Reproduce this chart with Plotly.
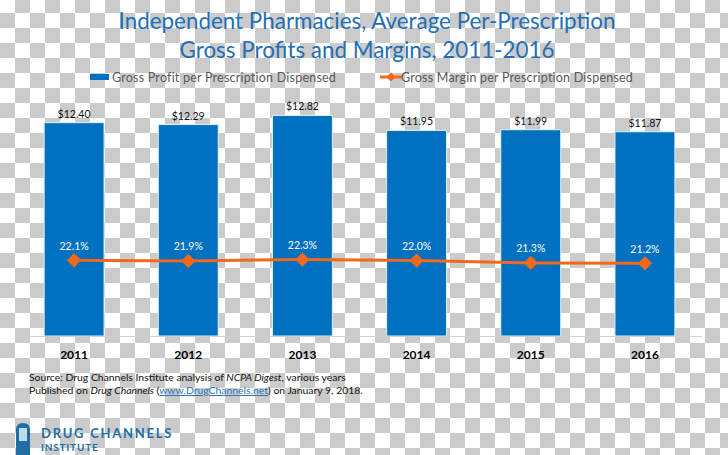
import plotly.graph_objects as go

W, H = 728, 455
years = ["2011", "2012", "2013", "2014", "2015", "2016"]
profit = [12.40, 12.29, 12.82, 11.95, 11.99, 11.87]
margin = [22.1, 21.9, 22.3, 22.0, 21.3, 21.2]
profit_name = "Gross Profit per Prescription Dispensed"
margin_name = "Gross Margin per Prescription Dispensed"
title_text = "Independent Pharmacies, Average Per-Prescription<br>Gross Profits and Margins, 2011-2016"
source_lines = ["Source: Drug Channels Institute analysis of <i>NCPA Digest</i>, various years",
                "Published on <i>Drug Channels</i> (<span style=\"color:#2E75B6\"><u>www.DrugChannels.net</u></span>) on January 9, 2018."]

BLUE = "#0070C0"
ORANGE = "#F2691C"
FONT = "Lato"


def px(x):
    return x / W


def py(y):
    return 1 - y / H


# transparency checkerboard backdrop, as one path in page fractions
cells = []
for r in range(0, 31):
    for c in range(0, 49):
        if (r + c) % 2 == 1:
            x0, x1 = c * 15, (c + 1) * 15
            y0, y1 = max(13 + (r - 1) * 15, 0), 13 + r * 15
            cells.append(f"M{px(x0):.5f},{py(y0):.5f}L{px(x1):.5f},{py(y0):.5f}L{px(x1):.5f},{py(y1):.5f}L{px(x0):.5f},{py(y1):.5f}Z")
shapes = [dict(type="path", xref="paper", yref="paper", layer="below", path="".join(cells),
               fillcolor="#CBCBCB", line=dict(width=0))]

# logo capsule
shapes += [
    dict(type="path", xref="paper", yref="paper", layer="above",
         path=f"M{px(16)},{py(455)}L{px(16)},{py(430)}Q{px(16)},{py(423)} {px(23)},{py(423)}Q{px(30)},{py(423)} {px(30)},{py(430)}L{px(30)},{py(455)}Z",
         fillcolor="#1F6EA5", line=dict(width=0)),
    dict(type="rect", xref="paper", yref="paper", layer="above",
         x0=px(19), x1=px(27), y0=py(428), y1=py(441), fillcolor="#BFDCEF", line=dict(width=0)),
]

# legend keys
shapes += [
    dict(type="rect", xref="paper", yref="paper", layer="above", x0=px(90), x1=px(109), y0=py(74), y1=py(80),
         fillcolor=BLUE, line=dict(width=0)),
    dict(type="line", xref="paper", yref="paper", layer="above", x0=px(380), x1=px(402), y0=py(77), y1=py(77),
         line=dict(color=ORANGE, width=3)),
    dict(type="path", xref="paper", yref="paper", layer="above",
         path=f"M{px(386)},{py(77)}L{px(391)},{py(72.5)}L{px(396)},{py(77)}L{px(391)},{py(81.5)}Z",
         fillcolor=ORANGE, line=dict(width=0)),
]

fig = go.Figure()
fig.add_bar(x=years, y=profit, name=profit_name, marker=dict(color=BLUE, line=dict(color="#E3F1FB", width=1)),
            text=[f"${v:.2f}" for v in profit], textposition="outside", cliponaxis=False,
            textfont=dict(family=FONT, size=10.5, color="#111111"), width=0.525, showlegend=False)
fig.add_scatter(x=years, y=margin, name=margin_name, yaxis="y2", mode="lines+markers+text",
                line=dict(color=ORANGE, width=3), marker=dict(symbol="diamond", size=11, color=ORANGE),
                text=[f"{v:.1f}%" for v in margin], textposition="top center",
                textfont=dict(family=FONT, size=10.5, color="#FFFFFF"), cliponaxis=False, showlegend=False)

annotations = [
    dict(text=source_lines[0], x=px(27), y=py(377), xref="paper", yref="paper", xanchor="left", yanchor="middle",
         showarrow=False, font=dict(family=FONT, size=10.4, color="#111111")),
    dict(text=source_lines[1], x=px(27), y=py(390), xref="paper", yref="paper", xanchor="left", yanchor="middle",
         showarrow=False, font=dict(family=FONT, size=10.4, color="#111111")),
    dict(text="<span style=\"letter-spacing:1.75px\">DRUG CHANNELS</span>", x=px(39), y=py(433), xref="paper", yref="paper",
         xanchor="left", yanchor="middle", showarrow=False, font=dict(family=FONT, size=13, color="#1F6EA5", weight=700)),
    dict(text="<span style=\"letter-spacing:0.8px\">INSTITUTE</span>", x=px(39), y=py(447), xref="paper", yref="paper",
         xanchor="left", yanchor="middle", showarrow=False, font=dict(family=FONT, size=10, color="#1F6EA5", weight=700)),
    dict(text=f"<span style=\"letter-spacing:0.22px\">{profit_name}</span>", x=px(110), y=py(77), xref="paper", yref="paper",
         xanchor="left", yanchor="middle", showarrow=False, font=dict(family=FONT, size=12.5, color="#595959")),
    dict(text=f"<span style=\"letter-spacing:0.22px\">{margin_name}</span>", x=px(399), y=py(77), xref="paper", yref="paper",
         xanchor="left", yanchor="middle", showarrow=False, font=dict(family=FONT, size=12.5, color="#595959")),
]

fig.update_layout(
    width=W, height=H, margin=dict(l=0, r=0, t=0, b=0), autosize=False,
    paper_bgcolor="#FFFFFF", plot_bgcolor="rgba(0,0,0,0)",
    title=dict(text=title_text, x=px(367), xanchor="center", y=py(29), yanchor="middle",
               font=dict(family=FONT, size=22.4, color="#1F6FB5")),
    xaxis=dict(domain=[px(17), px(702)], type="category", tickfont=dict(family=FONT, size=12, color="#000000", weight=700),
               showline=True, linecolor="#D0D0D0", linewidth=1, ticks="", showgrid=False, anchor="y", ticklabelstandoff=8),
    yaxis=dict(domain=[py(336), py(96)], range=[0, 13.95], visible=False, fixedrange=True),
    yaxis2=dict(domain=[py(336), py(96)], range=[0, 70], overlaying="y", visible=False, fixedrange=True),
    shapes=shapes, annotations=annotations,
)
fig.write_html("out.html", config=dict(displayModeBar=False),
               post_script="document.body.style.margin='0';document.documentElement.style.overflow='hidden';")
